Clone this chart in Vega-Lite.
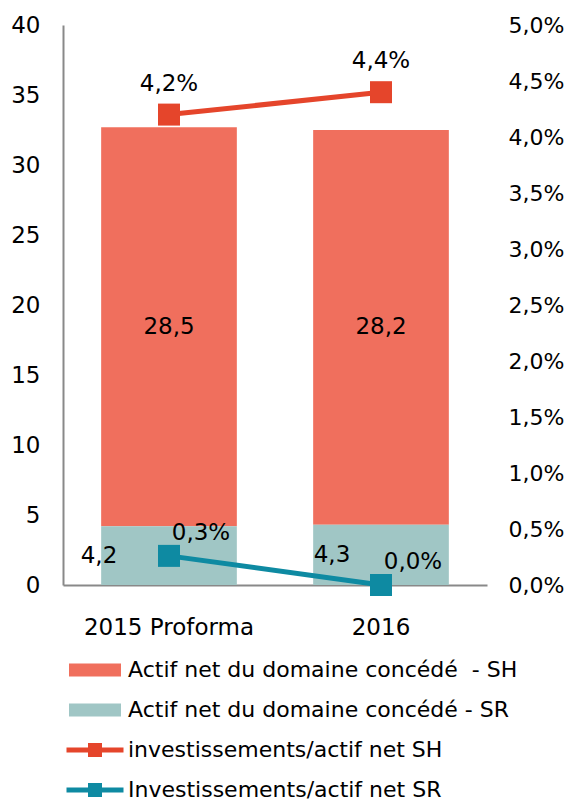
{
  "$schema": "https://vega.github.io/schema/vega-lite/v6.json",
  "width": 424,
  "height": 560,
  "autosize": {"type": "none"},
  "padding": {"left": 63, "top": 25, "right": 79, "bottom": 218},
  "config": {
    "font": "DejaVu Sans",
    "view": {"stroke": null},
    "locale": {"number": {"decimal": ",", "thousands": "\u00a0", "grouping": [3], "currency": ["", "\u00a0€"], "percent": "%"}},
    "axis": {"labelFont": "DejaVu Sans", "labelFontSize": 23, "labelColor": "#000000", "ticks": false, "grid": false, "title": null, "domainColor": "#898989", "domainWidth": 2},
    "text": {"font": "DejaVu Sans", "fontSize": 23, "color": "#000000"}
  },
  "datasets": {
    "actif": [
      {"cat": "2015 Proforma", "series": "Actif net du domaine concédé\u00a0 - SH", "value": 28.5},
      {"cat": "2015 Proforma", "series": "Actif net du domaine concédé - SR", "value": 4.2},
      {"cat": "2016", "series": "Actif net du domaine concédé\u00a0 - SH", "value": 28.2},
      {"cat": "2016", "series": "Actif net du domaine concédé - SR", "value": 4.3}
    ],
    "ratio": [
      {"cat": "2015 Proforma", "series": "investissements/actif net SH", "ratio": 0.042},
      {"cat": "2016", "series": "investissements/actif net SH", "ratio": 0.044},
      {"cat": "2015 Proforma", "series": "Investissements/actif net SR", "ratio": 0.0026},
      {"cat": "2016", "series": "Investissements/actif net SR", "ratio": 0.0}
    ]
  },
  "encoding": {
    "x": {"field": "cat", "type": "nominal", "sort": ["2015 Proforma", "2016"], "scale": {"paddingInner": 0.36, "paddingOuter": 0.18}, "axis": {"labelAngle": 0, "labelPadding": 31, "title": null}}
  },
  "layer": [
    {
      "data": {"name": "actif"},
      "transform": [
        {"stack": "value", "groupby": ["cat"], "sort": [{"field": "series", "order": "ascending"}], "as": ["v0", "v1"]},
        {"calculate": "(datum.v0 + datum.v1) / 2", "as": "mid"}
      ],
      "layer": [
        {
          "mark": {"type": "bar"},
          "encoding": {
            "y": {"field": "v0", "type": "quantitative", "scale": {"domain": [0, 40]}, "axis": {"orient": "left", "values": [0, 5, 10, 15, 20, 25, 30, 35, 40], "labelPadding": 23, "domain": true, "title": null}},
            "y2": {"field": "v1"},
            "color": {
              "field": "series", "type": "nominal",
              "scale": {"domain": ["Actif net du domaine concédé\u00a0 - SH", "Actif net du domaine concédé - SR", "investissements/actif net SH", "Investissements/actif net SR"], "range": ["#F06F5D", "#A0C6C5", "#E5452B", "#0E8AA2"]},
              "legend": {"orient": "none", "legendX": 21, "legendY": 634, "title": null, "labelFontSize": 22, "labelFont": "DejaVu Sans", "labelColor": "#000000", "symbolSize": 400, "labelOffset": 22, "rowPadding": 18, "labelLimit": 600, "direction": "vertical", "padding": 0,
                "encode": {"symbols": {"update": {
                  "shape": {"signal": "indexof(datum.value, 'nvestissements') >= 0 ? 'M-2.85,-0.25H2.85V0.25H-2.85Z M-0.7,-0.7H0.7V0.7H-0.7Z' : 'M-2.6,-0.65H2.6V0.65H-2.6Z'"},
                  "fill": {"scale": "color", "field": "value"},
                  "stroke": {"value": "transparent"},
                  "strokeWidth": {"value": 0},
                  "opacity": {"value": 1},
                  "fillOpacity": {"value": 1}
                }}}}
            }
          }
        },
        {
          "transform": [{"filter": "datum.series == 'Actif net du domaine concédé\u00a0 - SH'"}],
          "mark": {"type": "text", "align": "center", "baseline": "middle"},
          "encoding": {"y": {"field": "mid", "type": "quantitative"}, "text": {"field": "value", "type": "quantitative", "format": ".1f"}}
        },
        {
          "transform": [{"filter": "datum.series == 'Actif net du domaine concédé - SR' && datum.cat == '2015 Proforma'"}],
          "mark": {"type": "text", "align": "center", "baseline": "middle", "dx": -70},
          "encoding": {"y": {"field": "mid", "type": "quantitative"}, "text": {"field": "value", "type": "quantitative", "format": ".1f"}}
        },
        {
          "transform": [{"filter": "datum.series == 'Actif net du domaine concédé - SR' && datum.cat == '2016'"}],
          "mark": {"type": "text", "align": "center", "baseline": "middle", "dx": -49},
          "encoding": {"y": {"field": "mid", "type": "quantitative"}, "text": {"field": "value", "type": "quantitative", "format": ".1f"}}
        }
      ]
    },
    {
      "data": {"name": "ratio"},
      "layer": [
        {
          "mark": {"type": "line", "strokeWidth": 5, "point": {"shape": "square", "size": 484, "filled": true, "opacity": 1}},
          "encoding": {
            "y": {"field": "ratio", "type": "quantitative", "scale": {"domain": [0, 0.05]}, "axis": {"orient": "right", "format": ".1%", "values": [0, 0.005, 0.01, 0.015, 0.02, 0.025, 0.03, 0.035, 0.04, 0.045, 0.05], "labelPadding": 21, "labelFontSize": 22, "domain": false, "title": null}},
            "color": {
              "field": "series", "type": "nominal",
              "scale": {"domain": ["Actif net du domaine concédé\u00a0 - SH", "Actif net du domaine concédé - SR", "investissements/actif net SH", "Investissements/actif net SR"], "range": ["#F06F5D", "#A0C6C5", "#E5452B", "#0E8AA2"]}
            }
          }
        },
        {
          "transform": [{"filter": "datum.series == 'investissements/actif net SH'"}],
          "mark": {"type": "text", "align": "center", "baseline": "middle", "dy": -31},
          "encoding": {"y": {"field": "ratio", "type": "quantitative"}, "text": {"field": "ratio", "type": "quantitative", "format": ".1%"}}
        },
        {
          "transform": [{"filter": "datum.series == 'Investissements/actif net SR'"}],
          "mark": {"type": "text", "align": "center", "baseline": "middle", "dx": 32, "dy": -23},
          "encoding": {"y": {"field": "ratio", "type": "quantitative"}, "text": {"field": "ratio", "type": "quantitative", "format": ".1%"}}
        }
      ]
    }
  ],
  "resolve": {"scale": {"y": "independent"}}
}
